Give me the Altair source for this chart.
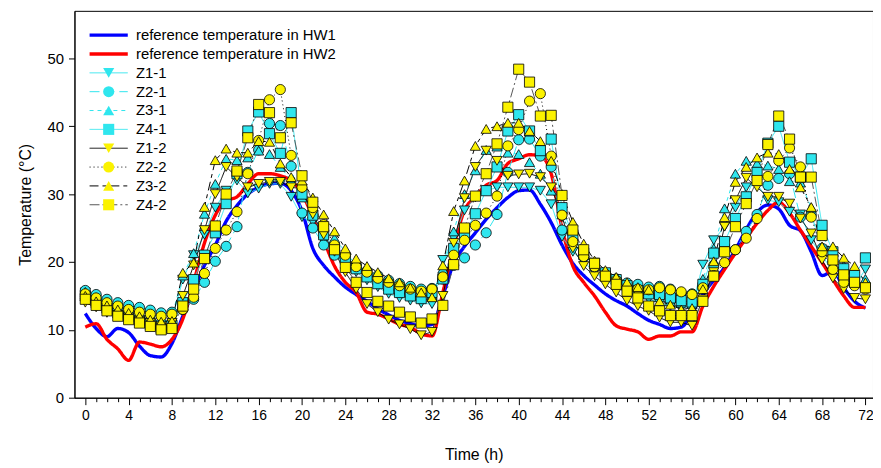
import altair as alt
import pandas as pd

hours = list(range(73))

ref_hw1 = [12.4, 10.2, 9.0, 10.2, 9.6, 7.6, 6.2, 6.0, 8.0, 12.0, 15.8, 19.5, 22.5, 26.0, 28.3, 30.0,
           31.0, 31.5, 31.6, 30.5, 27.5, 22.0, 19.5, 17.8, 16.3, 15.2, 14.2, 13.1, 12.2, 11.4, 10.9,
           10.6, 10.8, 15.0, 19.8, 22.3, 24.3, 26.3, 28.0, 29.5, 30.5, 30.6, 28.5, 25.8, 22.5, 19.8,
           18.0, 16.6, 15.3, 14.3, 13.5, 12.4, 11.4, 10.8, 10.2, 10.4, 12.5, 15.2, 17.3, 19.2, 21.8,
           24.8, 27.3, 28.4, 27.8, 25.4, 24.6, 21.5, 18.0, 18.6, 16.2, 14.2, 13.2]
ref_hw2 = [10.4, 10.9, 8.6, 7.2, 5.5, 8.2, 7.9, 7.5, 8.6, 11.6, 17.0, 22.8, 26.9, 29.0, 29.6, 31.5,
           33.0, 33.0, 32.7, 32.0, 30.1, 26.6, 23.2, 19.4, 17.0, 15.5, 12.6, 12.3, 11.6, 10.8, 10.4,
           9.4, 9.1, 15.5, 22.3, 27.6, 29.6, 31.3, 32.0, 34.5, 35.2, 35.8, 35.6, 33.0, 25.0, 19.4,
           17.0, 15.0, 12.6, 10.6, 10.1, 9.7, 8.6, 9.1, 9.1, 9.7, 9.7, 13.5, 16.4, 18.9, 21.3, 23.5,
           25.7, 27.6, 28.8, 27.2, 24.7, 22.3, 19.9, 17.4, 15.0, 13.3, 13.3]

z1_1 = [15.5, 14.5, 13.5, 13.0, 12.5, 12.0, 11.5, 11.2, 11.5,
        17.4, 21.0, 24.0, 28.0, 30.5, 32.0, 30.1, 30.8, 31.5, 31.5, 29.6, 26.6,
        25.9, 23.0, 21.0, 19.5,
        18.5, 17.3, 16.3, 15.3, 14.7, 14.3, 13.9, 13.8,
        20.3, 23.5,
        27.6, 29.5, 30.5, 31.0, 31.0, 31.0, 31.0, 30.5, 28.5, 23.7,
        21.5, 20.0, 18.5, 17.3, 16.4, 15.6, 15.0, 14.5,
        14.0, 13.5, 13.2, 13.5,
        19.6, 23.2, 25.2, 28.0, 31.0, 31.5, 29.1, 28.8, 27.4, 27.0, 23.2, 21.0, 18.5, 17.0, 16.5, 18.9]
z2_1 = [15.8, 15.2, 14.5, 14.0, 13.6, 13.3, 12.9, 12.5, 12.6,
        13.0, 14.5, 17.0, 20.1, 22.3, 25.2, 33.2, 36.5, 40.4, 40.1, 34.1, 27.2,
        25.0, 22.5, 21.0, 20.0,
        19.5, 18.7, 18.0, 17.3, 16.8, 16.4, 16.0, 16.1,
        17.5, 19.5,
        20.6, 22.5, 24.3, 27.0, 33.2, 38.0, 38.1, 35.6, 34.0, 24.7,
        23.0, 21.0, 19.5, 18.3, 17.5, 16.9, 16.7, 16.3,
        16.4, 16.0, 15.4, 15.3,
        16.5, 19.5, 22.3, 21.8, 24.5, 27.0, 31.3, 32.3, 33.0, 26.6, 27.0, 22.0, 20.0, 18.5, 17.0, 16.5]
z3_1 = [15.6, 14.8, 14.0, 13.5, 13.0, 12.6, 12.2, 11.8, 12.0,
        18.0, 21.3, 27.1, 31.5, 35.2, 35.0, 35.4, 36.4, 35.9, 34.0, 32.0, 29.5,
        28.0, 25.5, 23.5, 21.5,
        19.5, 18.3, 17.3, 16.5, 16.0, 15.5, 15.0, 15.2,
        19.0, 24.5,
        30.0, 33.5, 36.5, 37.0, 36.1, 35.9, 34.7, 33.0, 30.5, 27.0,
        23.5, 21.0, 19.4, 18.3, 17.4, 16.6, 15.8, 15.3,
        14.8, 14.2, 14.0, 13.8,
        17.5, 22.0, 27.9, 33.0, 34.9, 34.5, 34.2, 33.7, 31.9, 31.7, 28.0, 24.0, 21.0, 19.5, 18.0, 17.5]
z4_1 = [15.0, 14.0, 13.2, 12.5, 12.0, 11.4, 10.8, 10.2, 10.6,
        14.0, 17.4, 21.0, 24.3, 28.6, 33.0, 39.3, 42.1, 38.9, 36.0, 42.0, 30.0,
        26.9, 24.0, 22.0, 20.5,
        19.0, 17.8, 16.8, 16.0, 15.5, 15.0, 14.6, 15.5,
        17.5, 22.0,
        24.2, 27.1, 30.5, 34.0, 39.3, 41.7, 39.3, 36.4, 38.1, 28.0,
        24.0, 21.3, 19.8, 18.4, 17.4, 16.5, 15.8, 15.3,
        15.2, 14.7, 14.3, 14.1,
        16.7, 21.3, 23.0, 26.4, 29.6, 33.2, 37.5, 40.0, 34.7, 32.5, 35.2, 25.4, 21.5, 19.0, 18.0, 20.6]
z1_2 = [14.0, 13.3, 12.5, 12.2, 11.8, 11.3, 11.0, 10.5, 11.0,
        15.0, 19.5, 24.7, 30.0, 34.0, 32.5, 31.0, 31.5, 31.8, 31.8, 31.0, 30.8,
        27.0, 24.0, 21.5, 18.5,
        16.0, 13.8, 12.6, 11.5, 10.8, 10.1, 9.2, 9.7,
        15.0, 22.8,
        29.4, 34.0, 36.4, 34.9, 32.7, 32.9, 33.0, 32.5, 31.0, 26.6,
        22.0, 19.4, 17.9, 16.7, 15.5, 14.3, 13.5, 12.8,
        11.8, 11.1, 11.1, 10.6,
        14.5, 18.5, 25.2, 29.1, 32.4, 31.0, 29.6, 29.6, 28.6, 26.4, 24.2, 20.3, 17.6, 16.0, 14.7, 14.5]
z2_2 = [15.3, 14.7, 14.0, 13.5, 13.0, 12.6, 12.3, 12.0, 12.3,
        13.0, 14.8, 18.3, 22.0, 24.7, 27.4, 33.0, 37.9, 43.9, 45.4, 35.7, 31.0,
        28.0, 25.5, 22.5, 21.0,
        19.3, 18.5, 17.6, 17.0, 16.5, 16.0, 15.7, 16.0,
        17.8, 21.0,
        23.2, 25.4, 27.2, 29.7, 37.1, 39.5, 43.7, 44.8, 35.6, 26.9,
        23.0, 20.8, 19.3, 18.2, 17.3, 16.2, 16.0, 15.9,
        16.2, 15.9, 15.6, 15.2,
        16.2, 18.0, 19.9, 21.8, 23.5, 26.4, 32.6, 34.9, 36.8, 34.0, 26.6, 21.5, 18.9, 17.0, 16.5, 16.0]
z3_2 = [15.0, 14.2, 13.6, 13.0, 12.5, 12.0, 11.5, 11.2, 11.3,
        18.4, 19.9, 28.1, 35.0, 36.7, 36.1, 36.1, 37.8, 37.7, 34.5, 32.5, 32.0,
        29.5, 27.0, 24.5, 22.0,
        20.5, 19.4, 18.5, 17.6, 17.0, 16.2, 15.5, 14.8,
        19.5, 27.5,
        32.0, 37.1, 39.6, 40.0, 40.5, 40.5, 39.3, 37.8, 34.9, 30.0,
        25.9, 22.7, 20.2, 18.8, 17.8, 17.0, 16.3, 15.9,
        14.2, 13.7, 13.0, 13.2,
        16.0, 20.1, 26.6, 31.8, 34.0, 35.4, 36.1, 35.9, 33.7, 31.0, 28.1, 22.3, 22.3, 20.6, 19.4, 17.0]
z4_2 = [14.5, 13.6, 12.8, 12.0, 11.5, 11.0, 10.5, 10.0, 10.2,
        13.5, 16.0, 20.5, 25.3, 30.0, 33.4, 38.3, 43.2, 42.0, 38.3, 40.5, 32.7,
        28.8, 25.2, 21.8, 19.2,
        17.0, 15.5, 14.2, 13.5, 12.6, 11.9, 11.0, 11.6,
        13.6, 19.6,
        25.0, 29.7, 33.0, 37.4, 42.8, 48.4, 46.5, 41.5, 41.6, 29.8,
        24.7, 21.8, 19.8, 17.9, 16.7, 15.7, 14.7, 13.5,
        12.8, 12.1, 12.1, 12.1,
        14.2, 17.9, 21.5, 25.2, 28.6, 32.0, 37.3, 41.5, 38.1, 32.5, 32.5, 23.9, 20.3, 18.1, 17.0, 16.2]

names = ["reference temperature in HW1", "reference temperature in HW2",
         "Z1-1", "Z2-1", "Z3-1", "Z4-1", "Z1-2", "Z2-2", "Z3-2", "Z4-2"]
# marker keys (distinct domain so the marker legend is kept separate and overlaid)
marker_keys = ["m_" + n for n in names]
ref_series = {names[0]: ref_hw1, names[1]: ref_hw2}
z_series = {"Z1-1": z1_1, "Z2-1": z2_1, "Z3-1": z3_1, "Z4-1": z4_1,
            "Z1-2": z1_2, "Z2-2": z2_2, "Z3-2": z3_2, "Z4-2": z4_2}

CY = "#2fe6ee"
YE = "#fbf200"
stroke_range = ["#0000ff", "#ff0000", CY, CY, CY, CY, "#000000", "#000000", "#000000", "#555555"]
dash_range = [[1, 0], [1, 0], [1, 0], [10, 5], [4, 4], [1, 0], [1, 0], [1, 3], [9, 4, 4, 4], [10, 3, 2, 3]]
width_range = [3.4, 3.4, 1, 1, 1, 1, 1, 1, 1, 1]
shape_range = ["M0,0", "M0,0", "triangle-down", "circle", "triangle-up", "square",
               "triangle-down", "circle", "triangle-up", "square"]
fill_range = ["transparent", "transparent", CY, CY, CY, CY, YE, YE, YE, YE]

rows = []
for n, vals in ref_series.items():
    for t, v in zip(hours, vals):
        rows.append({"series": n, "t": t, "v": v})
ref_df = pd.DataFrame(rows)
rows = []
for n, vals in z_series.items():
    for t, v in zip(hours, vals):
        rows.append({"series": n, "series_m": "m_" + n, "t": t, "v": v})
z_df = pd.DataFrame(rows)

FONT = "Liberation Sans"

x_enc = alt.X("t:Q", scale=alt.Scale(domain=[-1, 72.7], nice=False, zero=False),
              axis=alt.Axis(values=hours, title="Time (h)", grid=False, labelFlush=False,
                            labelOverlap=False,
                            labelExpr="datum.value % 4 === 0 ? datum.label : ''",
                            tickSize={"condition": {"test": "datum.value % 4 === 0", "value": 7}, "value": 4},
                            labelPadding=4, titlePadding=24, labelFontSize=14, titleFontSize=16))
y_enc = alt.Y("v:Q", scale=alt.Scale(domain=[0, 57], nice=False),
              axis=alt.Axis(values=[0, 10, 20, 30, 40, 50], title="Temperature (°C)", grid=False,
                            tickSize=6, labelPadding=5, titlePadding=14, labelFontSize=15, titleFontSize=16))

legA = alt.Legend(title=None, orient="none", legendX=27, legendY=17, symbolType="M-3.5,0H3.5",
                  symbolSize=121, labelFontSize=15, labelFont=FONT, labelOffset=20, rowPadding=3,
                  labelLimit=0, zindex=1, symbolFillColor="transparent")
legB = alt.Legend(title=None, orient="none", legendX=27, legendY=17, symbolSize=125,
                  symbolStrokeColor="black", symbolStrokeWidth=0.8, labelFontSize=15, labelFont=FONT,
                  labelExpr="''", labelOffset=20, rowPadding=3, zindex=2)

stroke_enc = alt.Stroke("series:N", scale=alt.Scale(domain=names, range=stroke_range), legend=legA)
dash_enc = alt.StrokeDash("series:N", scale=alt.Scale(domain=names, range=dash_range), legend=legA)
width_enc = alt.StrokeWidth("series:N", scale=alt.Scale(type="ordinal", domain=names, range=width_range),
                            legend=legA)

ref_lines = alt.Chart(ref_df).mark_line(interpolate="monotone").encode(
    x=x_enc, y=y_enc, stroke=stroke_enc, strokeDash=dash_enc, strokeWidth=width_enc)
z_lines = alt.Chart(z_df).mark_line().encode(
    x=x_enc, y=y_enc, stroke=stroke_enc, strokeDash=dash_enc, strokeWidth=width_enc)
z_points = alt.Chart(z_df).mark_point(filled=True, size=105, stroke="black", strokeWidth=0.8, opacity=1).encode(
    x=x_enc, y=y_enc,
    shape=alt.Shape("series_m:N", scale=alt.Scale(domain=marker_keys, range=shape_range), legend=legB),
    fill=alt.Fill("series_m:N", scale=alt.Scale(domain=marker_keys, range=fill_range), legend=legB))

chart = alt.layer(ref_lines, z_lines, z_points).properties(
    width=805, height=390, autosize="none",
    padding={"left": 67, "top": 1, "right": 0, "bottom": 68}
).configure_view(stroke="black", strokeWidth=1).configure_axis(
    domainColor="black", tickColor="black", labelColor="black", titleColor="black",
    labelFont=FONT, titleFont=FONT, titleFontWeight="normal"
).configure_legend(labelFont=FONT)

chart.save("out.html", embed_options={"renderer": "svg", "actions": False})
